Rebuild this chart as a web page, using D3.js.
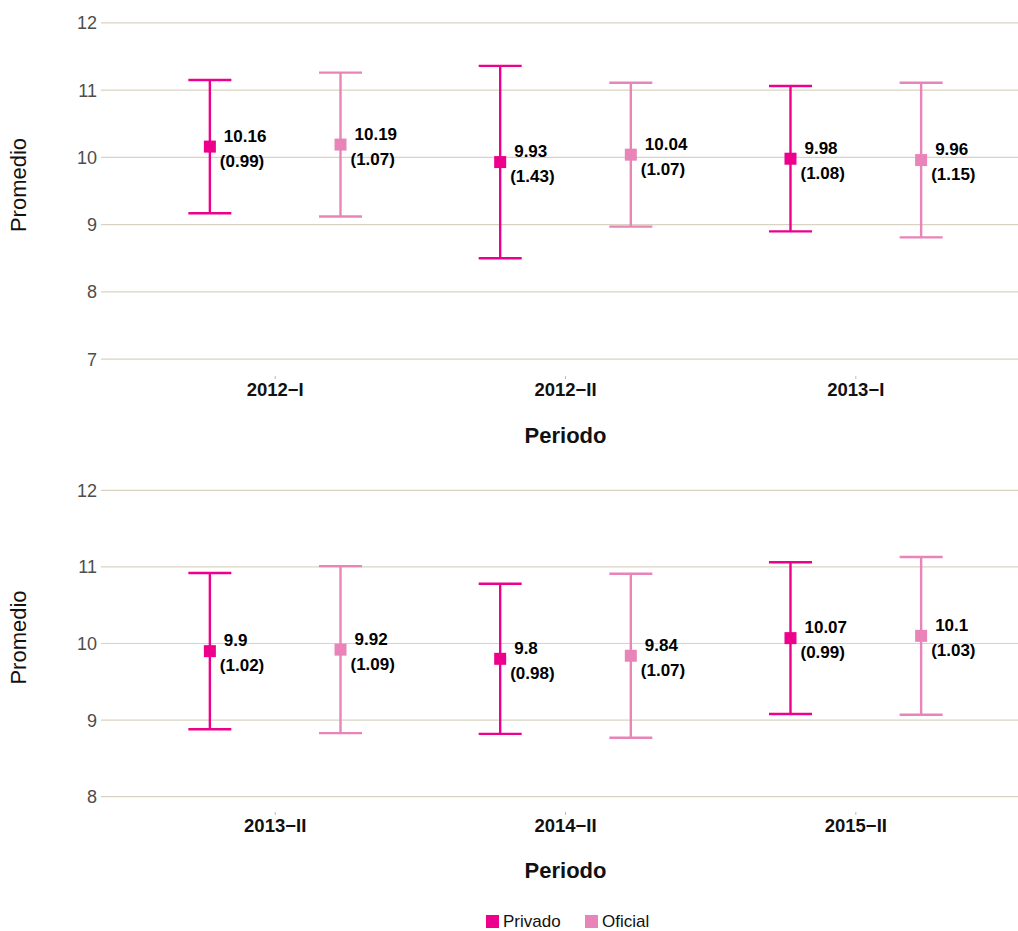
<!DOCTYPE html>
<html><head><meta charset="utf-8">
<script src="https://cdn.jsdelivr.net/npm/d3@7"></script>
<style>body{margin:0;background:#fff}svg{display:block;font-family:"Liberation Sans",Arial,sans-serif}</style>
</head><body><svg id="c" width="1018" height="931"></svg>
<script>
const series = ["Privado", "Oficial"];
const colors = ["#EC008C", "#E884B7"];
const periodsTop = ["2012−I", "2012−II", "2013−I"];
const periodsBottom = ["2013−II", "2014−II", "2015−II"];
const privadoMeanTop = [10.16, 9.93, 9.98];
const privadoSdTop = [0.99, 1.43, 1.08];
const oficialMeanTop = [10.19, 10.04, 9.96];
const oficialSdTop = [1.07, 1.07, 1.15];
const privadoMeanBottom = [9.9, 9.8, 10.07];
const privadoSdBottom = [1.02, 0.98, 0.99];
const oficialMeanBottom = [9.92, 9.84, 10.1];
const oficialSdBottom = [1.09, 1.07, 1.03];
const yTicksTop = [7, 8, 9, 10, 11, 12];
const yTicksBottom = [8, 9, 10, 11, 12];
const yTitle = "Promedio", xTitle = "Periodo";

const svg = d3.select("#c");
const fmt = v => String(v);

function panel(cfg) {
  const {periods, pm, ps, om, os, ticks, top, bottom, xLabY, xTitleY} = cfg;
  const left = 101, right = 1030;
  const dom = d3.extent(ticks);
  const pad = (dom[1] - dom[0]) * 0.05;
  const y = d3.scaleLinear().domain([dom[0] - pad, dom[1] + pad]).range([bottom, top]);
  const x = d3.scaleBand().domain(periods).range([left, right]).paddingOuter(0.1).paddingInner(0);
  const xs = d3.scaleBand().domain(series).range([0, x.bandwidth() * 0.9]);
  const g = svg.append("g");
  g.selectAll("line.grid").data(ticks).join("line")
    .attr("x1", left).attr("x2", right)
    .attr("y1", d => y(d)).attr("y2", d => y(d))
    .attr("stroke", "#d9d3c3").attr("stroke-width", 1.2);
  g.selectAll("text.yt").data(ticks).join("text")
    .attr("x", 97).attr("y", d => y(d)).attr("dy", "0.36em")
    .attr("text-anchor", "end").attr("font-size", 18).attr("fill", "#4d4d4d")
    .text(d => d);
  g.selectAll("line.xt").data(periods).join("line")
    .attr("x1", d => x(d) + x.bandwidth() / 2).attr("x2", d => x(d) + x.bandwidth() / 2)
    .attr("y1", bottom).attr("y2", bottom + 3).attr("stroke", "#bbb").attr("stroke-width", 1);
  g.selectAll("text.xl").data(periods).join("text")
    .attr("x", d => x(d) + x.bandwidth() / 2).attr("y", xLabY)
    .attr("text-anchor", "middle").attr("font-size", 18.5).attr("font-weight", "bold").attr("fill", "#111")
    .text(d => d);
  g.append("text").attr("x", (left + right) / 2).attr("y", xTitleY)
    .attr("text-anchor", "middle").attr("font-size", 22).attr("font-weight", "bold").attr("fill", "#111")
    .text(xTitle);
  const cy = (top + bottom) / 2 - 6;
  g.append("text").attr("transform", `translate(26,${cy}) rotate(-90)`)
    .attr("text-anchor", "middle").attr("font-size", 22).attr("fill", "#111").text(yTitle);

  const rows = [];
  periods.forEach((p, i) => {
    rows.push({p, s: "Privado", m: pm[i], sd: ps[i], c: colors[0]});
    rows.push({p, s: "Oficial", m: om[i], sd: os[i], c: colors[1]});
  });
  const cx = d => x(d.p) + x.bandwidth() * 0.05 + xs(d.s) + xs.bandwidth() / 2;
  const capW = 21.5;
  const eg = g.selectAll("g.eb").data(rows).join("g");
  eg.append("line").attr("x1", cx).attr("x2", cx)
    .attr("y1", d => y(d.m - d.sd)).attr("y2", d => y(d.m + d.sd))
    .attr("stroke", d => d.c).attr("stroke-width", 2.4);
  eg.append("line").attr("x1", d => cx(d) - capW).attr("x2", d => cx(d) + capW)
    .attr("y1", d => y(d.m + d.sd)).attr("y2", d => y(d.m + d.sd))
    .attr("stroke", d => d.c).attr("stroke-width", 2.4);
  eg.append("line").attr("x1", d => cx(d) - capW).attr("x2", d => cx(d) + capW)
    .attr("y1", d => y(d.m - d.sd)).attr("y2", d => y(d.m - d.sd))
    .attr("stroke", d => d.c).attr("stroke-width", 2.4);
  eg.append("rect").attr("x", d => cx(d) - 6).attr("y", d => y(d.m) - 6)
    .attr("width", 12).attr("height", 12).attr("fill", d => d.c);
  const t = eg.append("text").attr("font-size", 17).attr("font-weight", "bold").attr("fill", "#000");
  t.append("tspan").attr("x", d => cx(d) + 14).attr("y", d => y(d.m) - 5).text(d => fmt(d.m));
  t.append("tspan").attr("x", d => cx(d) + 10).attr("y", d => y(d.m) + 20).text(d => "(" + fmt(d.sd) + ")");
}

panel({periods: periodsTop, pm: privadoMeanTop, ps: privadoSdTop, om: oficialMeanTop, os: oficialSdTop,
  ticks: yTicksTop, top: 6, bottom: 376, xLabY: 396, xTitleY: 443});
panel({periods: periodsBottom, pm: privadoMeanBottom, ps: privadoSdBottom, om: oficialMeanBottom, os: oficialSdBottom,
  ticks: yTicksBottom, top: 475, bottom: 812, xLabY: 832, xTitleY: 878});

const lg = svg.append("g");
const lx = [486, 585];
series.forEach((s, i) => {
  lg.append("rect").attr("x", lx[i]).attr("y", 915).attr("width", 13).attr("height", 13).attr("fill", colors[i]);
  lg.append("text").attr("x", lx[i] + 17).attr("y", 927).attr("font-size", 17).attr("fill", "#111").text(s);
});
</script></body></html>
